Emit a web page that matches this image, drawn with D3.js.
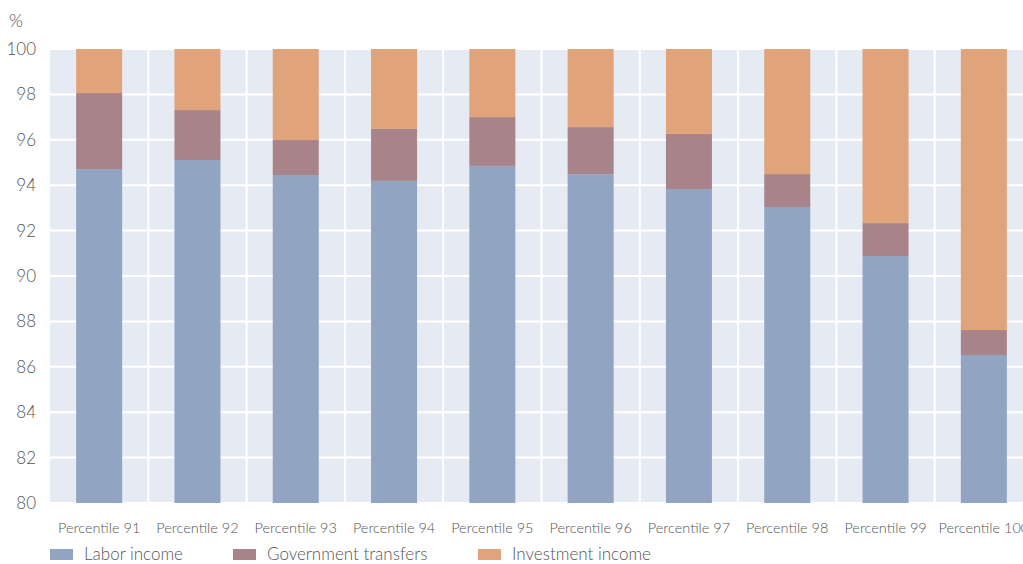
<!DOCTYPE html>
<html><head><meta charset="utf-8">
<script src="https://cdn.jsdelivr.net/npm/d3@7"></script>
<style>
body{margin:0;background:#fff;}
svg{display:block;font-family:Lato,"Open Sans",sans-serif;}
</style></head><body>
<svg id="chart" width="1023" height="564"></svg>
<script>
const categories = ["Percentile 91","Percentile 92","Percentile 93","Percentile 94","Percentile 95","Percentile 96","Percentile 97","Percentile 98","Percentile 99","Percentile 100"];
const laborIncome = [94.71, 95.11, 94.45, 94.19, 94.85, 94.49, 93.83, 93.04, 90.88, 86.52];
const governmentTransfers = [3.35, 2.20, 1.54, 2.29, 2.15, 2.07, 2.43, 1.45, 1.45, 1.10];
const investmentIncome = [1.94, 2.69, 4.01, 3.52, 3.00, 3.44, 3.74, 5.51, 7.67, 12.38];
const seriesNames = ["Labor income","Government transfers","Investment income"];
const yTicks = [80,82,84,86,88,90,92,94,96,98,100];
const colors = ["#91a5c3","#a8848a","#e0a37a"];

const svg = d3.select("#chart");
const mLeft = 50, mRight = 1033, mTop = 49, mBottom = 503;
const x = d3.scaleBand().domain(categories).range([mLeft, mRight]).paddingInner(0.532).paddingOuter(0.266);
const xGrid = d3.scaleBand().domain(categories).range([mLeft, mRight]);
const y = d3.scaleLinear().domain([80,100]).range([mBottom, mTop]);

svg.append("rect").attr("x", mLeft).attr("y", mTop).attr("width", mRight-mLeft).attr("height", mBottom-mTop).attr("fill", "#e6eaf2");

// grid
svg.append("g").selectAll("line").data(yTicks).join("line")
  .attr("x1", mLeft).attr("x2", mRight).attr("y1", d=>y(d)).attr("y2", d=>y(d))
  .attr("stroke", "#fff").attr("stroke-width", 2);
svg.append("g").selectAll("line").data(categories.slice(1)).join("line")
  .attr("x1", d=>xGrid(d)).attr("x2", d=>xGrid(d)).attr("y1", mTop).attr("y2", mBottom)
  .attr("stroke", "#fff").attr("stroke-width", 2);

const rows = categories.map((c,i)=>({cat:c, labor:laborIncome[i], gov:governmentTransfers[i], inv:investmentIncome[i]}));
const stack = d3.stack().keys(["labor","gov","inv"]);
const stacked = stack(rows);

svg.append("g").selectAll("g").data(stacked).join("g")
  .attr("fill", (d,i)=>colors[i])
  .selectAll("rect").data(d=>d).join("rect")
  .attr("x", d=>x(d.data.cat)).attr("width", x.bandwidth())
  .attr("y", d=>y(Math.min(100,d[1]))).attr("height", d=>y(Math.max(80,d[0]))-y(Math.min(100,d[1])));

// y axis
const yAxis = d3.axisLeft(y).tickValues(yTicks).tickSize(0).tickPadding(14);
const gy = svg.append("g").attr("transform", `translate(${mLeft},0)`).call(yAxis);
gy.select(".domain").remove();
gy.selectAll("text").attr("font-size", 17).attr("fill", "#555").style("font-family","Lato,sans-serif").style("font-weight",300);

svg.append("text").attr("x", 9).attr("y", 27).text("%").attr("font-size", 18).attr("fill", "#555").style("font-weight",300);

// x axis
const xAxis = d3.axisBottom(x).tickSize(0).tickPadding(0);
const gx = svg.append("g").attr("transform", `translate(0,${mBottom})`).call(xAxis);
gx.select(".domain").remove();
gx.selectAll("text").attr("dy", null).attr("y", 30).attr("font-size", 14.5).attr("fill", "#555").style("font-family","Lato,sans-serif").style("font-weight",300);

// legend
const legendX = [50, 233, 478];
const lg = svg.append("g").selectAll("g").data(seriesNames).join("g")
  .attr("transform", (d,i)=>`translate(${legendX[i]},549)`);
lg.append("rect").attr("width", 23).attr("height", 11).attr("fill", (d,i)=>colors[i]);
lg.append("text").attr("x", 34).attr("y", 11).text(d=>d).attr("font-size", 17).attr("fill", "#555").style("font-weight",300);
</script>
</body></html>
